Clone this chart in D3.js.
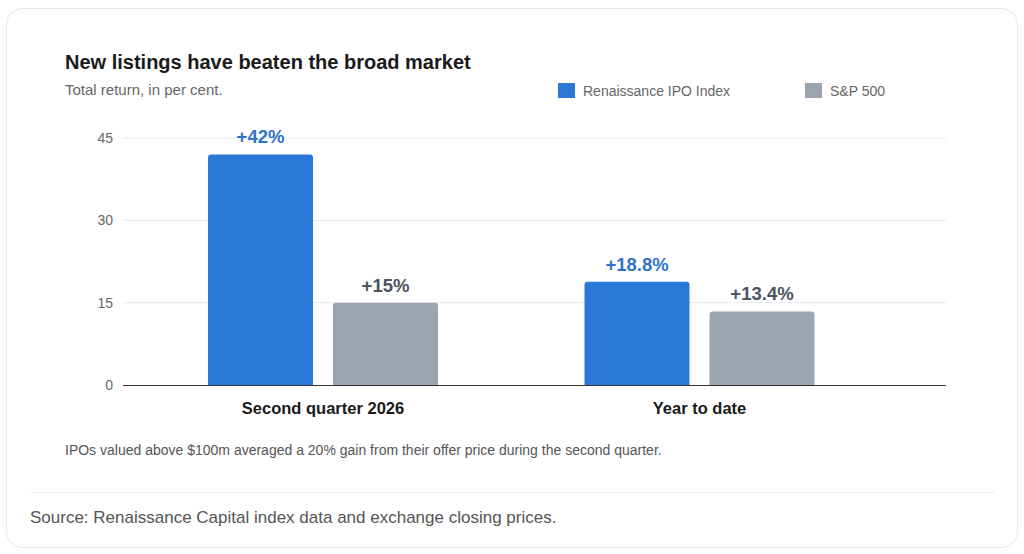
<!DOCTYPE html>
<html>
<head>
<meta charset="utf-8">
<script src="https://cdn.jsdelivr.net/npm/d3@7"></script>
<style>
  html, body { margin: 0; padding: 0; background: #ffffff; }
  svg { display: block; font-family: "Liberation Sans", Arial, sans-serif; }
</style>
</head>
<body>
<svg id="chart" width="1024" height="554"></svg>
<script>
const categories = ["Second quarter 2026", "Year to date"];
const seriesNames = ["Renaissance IPO Index", "S&P 500"];
const ipoValues = [42, 18.8];
const spValues = [15, 13.4];
const valueLabels = [["+42%", "+15%"], ["+18.8%", "+13.4%"]];
const yTicks = [0, 15, 30, 45];

const colors = ["#2b78d6", "#9aa5b1"];
const labelColors = ["#2f72c9", "#4b5461"];

const svg = d3.select("#chart");

// card
svg.append("rect")
    .attr("x", 6.5).attr("y", 8.5)
    .attr("width", 1011).attr("height", 539)
    .attr("rx", 16)
    .attr("fill", "#fff")
    .attr("stroke", "#e6e8eb");

svg.append("text")
    .attr("x", 65).attr("y", 69)
    .style("font-size", "20px").style("font-weight", "bold")
    .attr("fill", "#1a1a1a")
    .text("New listings have beaten the broad market");

svg.append("text")
    .attr("x", 65).attr("y", 95)
    .style("font-size", "15px")
    .attr("fill", "#666")
    .text("Total return, in per cent.");

// legend
const legendX = [558, 805];
seriesNames.forEach(function(name, i) {
  svg.append("rect")
      .attr("x", legendX[i]).attr("y", 83)
      .attr("width", 17).attr("height", 15)
      .attr("fill", colors[i]);
  svg.append("text")
      .attr("x", legendX[i] + 25).attr("y", 96)
      .style("font-size", "14px")
      .attr("fill", "#666")
      .text(name);
});

const plotLeft = 123, plotRight = 946;
const y = d3.scaleLinear().domain([0, 45]).range([385, 138]);

const x = d3.scaleBand()
    .domain(categories)
    .range([134.75, 887.75])
    .paddingInner(0.2)
    .paddingOuter(0.1);

const xInner = d3.scaleBand()
    .domain(seriesNames)
    .range([-115, 115])
    .paddingInner(0.16);

// grid
svg.append("g")
  .selectAll("line")
  .data(yTicks.filter(d => d > 0))
  .enter().append("line")
    .attr("x1", plotLeft).attr("x2", plotRight)
    .attr("y1", d => y(d)).attr("y2", d => y(d))
    .attr("stroke", "#e8eaed");

const yAxis = svg.append("g")
    .attr("transform", "translate(" + plotLeft + ",0)")
    .call(d3.axisLeft(y).tickValues(yTicks).tickSize(0).tickPadding(10));
yAxis.select(".domain").remove();
yAxis.selectAll("text")
    .style("font-size", "14px")
    .style("font-family", "'Liberation Sans', Arial, sans-serif")
    .attr("fill", "#666");

const rows = categories.map(function(c, i) {
  return { cat: c, values: [ipoValues[i], spValues[i]], labels: valueLabels[i] };
});

function topRoundedBar(x0, y0, w, h, r) {
  r = Math.min(r, h);
  return "M" + x0 + "," + (y0 + h) +
    "V" + (y0 + r) +
    "Q" + x0 + "," + y0 + " " + (x0 + r) + "," + y0 +
    "H" + (x0 + w - r) +
    "Q" + (x0 + w) + "," + y0 + " " + (x0 + w) + "," + (y0 + r) +
    "V" + (y0 + h) + "Z";
}

const groups = svg.append("g")
  .selectAll("g")
  .data(rows)
  .enter().append("g")
    .attr("transform", d => "translate(" + (x(d.cat) + x.bandwidth() / 2) + ",0)");

groups.selectAll("path")
  .data(d => d.values.map((v, i) => ({ series: seriesNames[i], v: v, i: i, label: d.labels[i] })))
  .enter().append("path")
    .attr("d", d => topRoundedBar(xInner(d.series), y(d.v), xInner.bandwidth(), y(0) - y(d.v), 3))
    .attr("fill", d => colors[d.i]);

groups.selectAll("text.val")
  .data(d => d.values.map((v, i) => ({ series: seriesNames[i], v: v, i: i, label: d.labels[i] })))
  .enter().append("text")
    .attr("class", "val")
    .attr("x", d => xInner(d.series) + xInner.bandwidth() / 2)
    .attr("y", d => y(d.v) - 11)
    .attr("text-anchor", "middle")
    .style("font-size", "18.5px").style("font-weight", "bold")
    .attr("fill", d => labelColors[d.i])
    .text(d => d.label);

groups.append("text")
    .attr("x", 0).attr("y", 414)
    .attr("text-anchor", "middle")
    .style("font-size", "16.5px").style("font-weight", "bold")
    .attr("fill", "#1a1a1a")
    .text(d => d.cat);

// baseline
svg.append("line")
    .attr("x1", plotLeft).attr("x2", plotRight)
    .attr("y1", y(0) + 0.5).attr("y2", y(0) + 0.5)
    .attr("stroke", "#333").attr("stroke-width", 1.2);

svg.append("text")
    .attr("x", 65).attr("y", 455)
    .style("font-size", "14px")
    .attr("fill", "#555")
    .text("IPOs valued above $100m averaged a 20% gain from their offer price during the second quarter.");

svg.append("line")
    .attr("x1", 30).attr("x2", 995)
    .attr("y1", 492.5).attr("y2", 492.5)
    .attr("stroke", "#eceef0");

svg.append("text")
    .attr("x", 30).attr("y", 523)
    .style("font-size", "17px")
    .attr("fill", "#555")
    .text("Source: Renaissance Capital index data and exchange closing prices.");
</script>
</body>
</html>
